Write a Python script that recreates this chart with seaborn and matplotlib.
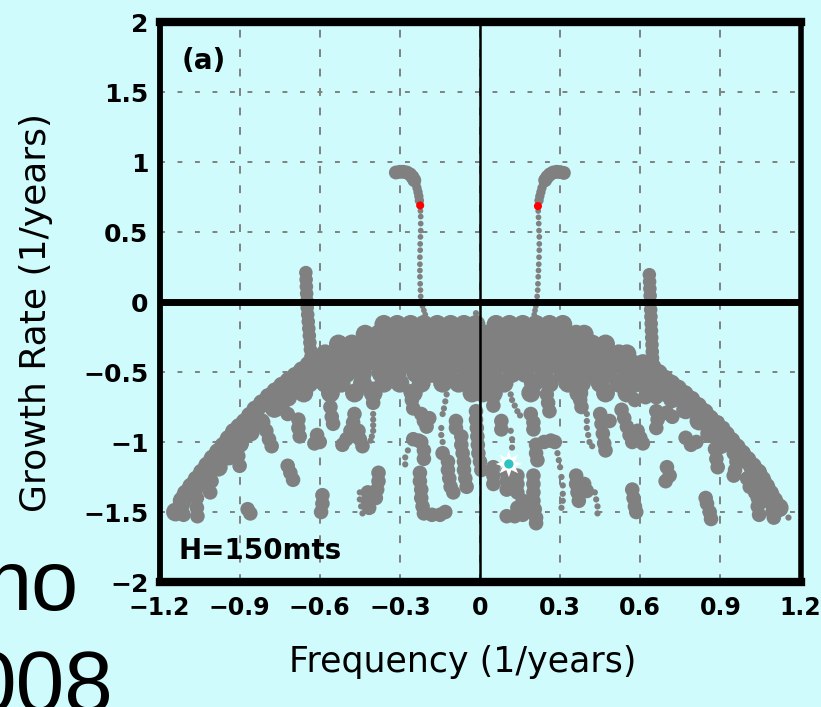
import numpy as np
import pandas as pd
import matplotlib
matplotlib.use("Agg")
import matplotlib.pyplot as plt
import seaborn as sns

# ---- eigenvalue spectrum: frequency (1/years) vs growth rate (1/years) ----

# unstable branches rising above zero (left / right)
head_left_x = [-0.315, -0.300, -0.287, -0.274, -0.262, -0.253, -0.246]
head_left_y = [0.925, 0.930, 0.930, 0.925, 0.912, 0.893, 0.870]
head_right_x = [0.314, 0.300, 0.287, 0.274, 0.262, 0.252, 0.244]
head_right_y = [0.922, 0.928, 0.930, 0.925, 0.912, 0.893, 0.870]

neck_left_x = [-0.240, -0.236, -0.232, -0.229, -0.227]
neck_left_y = [0.845, 0.815, 0.785, 0.755, 0.725]
neck_right_x = [0.238, 0.232, 0.228, 0.224, 0.221]
neck_right_y = [0.845, 0.815, 0.785, 0.755, 0.725]

trail_left_x = [-0.223, -0.222, -0.222, -0.222, -0.223, -0.224, -0.224, -0.225,
                -0.225, -0.225, -0.225, -0.224, -0.223, -0.222, -0.220, -0.215,
                -0.210, -0.205]
trail_left_y = [0.650, 0.610, 0.560, 0.510, 0.465, 0.415, 0.370, 0.320,
                0.270, 0.225, 0.180, 0.130, 0.085, 0.040, 0.000, -0.030,
                -0.060, -0.090]
trail_right_x = [0.218, 0.219, 0.220, 0.221, 0.222, 0.222, 0.222, 0.221,
                 0.220, 0.219, 0.218, 0.217, 0.216, 0.214, 0.212, 0.209,
                 0.206, 0.203]
trail_right_y = [0.650, 0.605, 0.560, 0.510, 0.465, 0.415, 0.370, 0.320,
                 0.270, 0.225, 0.180, 0.130, 0.085, 0.040, 0.000, -0.030,
                 -0.060, -0.090]

# modes where the branches cross the neutral curve
marked_x = [-0.224, 0.217]
marked_y = [0.690, 0.685]

# near-vertical columns at |f| ~ 0.65
column_left_x = [-0.652, -0.651, -0.650, -0.649, -0.648, -0.647, -0.645, -0.643,
                 -0.641, -0.639, -0.637, -0.635, -0.633]
column_left_y = [0.210, 0.160, 0.110, 0.060, 0.010, -0.040, -0.090, -0.140,
                 -0.190, -0.240, -0.290, -0.340, -0.390]
column_right_x = [0.634, 0.635, 0.636, 0.637, 0.638, 0.639, 0.640, 0.641,
                  0.642, 0.643, 0.644, 0.645, 0.646, 0.647]
column_right_y = [0.195, 0.145, 0.095, 0.045, -0.005, -0.055, -0.105, -0.155,
                  -0.205, -0.255, -0.305, -0.355, -0.400, -0.440]

# dense band of damped modes under the zero line, row by row
band_growth = [-0.16, -0.23, -0.30, -0.37, -0.44, -0.51, -0.58, -0.65]
band_freq = [
    [-0.36, -0.31, -0.26, -0.21, -0.16, -0.11, -0.06, -0.015, 0.06, 0.11,
     0.16, 0.21, 0.26, 0.31],
    [-0.43, -0.38, -0.33, -0.28, -0.23, -0.18, -0.13, -0.08, -0.03, 0.02,
     0.07, 0.12, 0.17, 0.22, 0.27, 0.32, 0.36, 0.39],
    [-0.53, -0.48, -0.43, -0.38, -0.33, -0.28, -0.23, -0.18, -0.13, -0.08,
     -0.03, 0.02, 0.07, 0.12, 0.17, 0.22, 0.27, 0.32, 0.37, 0.42, 0.47],
    [-0.58, -0.53, -0.48, -0.43, -0.38, -0.33, -0.28, -0.23, -0.18, -0.13,
     -0.08, -0.03, 0.02, 0.07, 0.12, 0.17, 0.22, 0.27, 0.32, 0.37, 0.42,
     0.47, 0.52, 0.55],
    [-0.63, -0.58, -0.53, -0.48, -0.43, -0.38, -0.33, -0.28, -0.23, -0.18,
     -0.13, -0.08, -0.03, 0.02, 0.07, 0.12, 0.17, 0.22, 0.27, 0.32, 0.37,
     0.42, 0.47, 0.52, 0.57, 0.61],
    [-0.66, -0.61, -0.56, -0.50, -0.44, -0.37, -0.31, -0.24, -0.18, -0.12,
     -0.05, 0.00, 0.05, 0.12, 0.17, 0.24, 0.31, 0.36, 0.42, 0.48, 0.55,
     0.60, 0.66],
    [-0.70, -0.64, -0.58, -0.52, -0.44, -0.36, -0.30, -0.22, -0.14, -0.08,
     -0.02, 0.04, 0.09, 0.20, 0.26, 0.33, 0.38, 0.45, 0.52, 0.58, 0.63, 0.69],
    [-0.74, -0.66, -0.56, -0.47, -0.40, -0.25, -0.03, 0.01, 0.05, 0.19,
     0.37, 0.47, 0.55, 0.63, 0.70],
]

# outer, middle and inner edges of the arch
arc_x = [-0.640, -0.690, -0.740, -0.790, -0.840, -0.880, -0.920, -0.960,
         -1.000, -1.040, -1.080, -1.115, -1.140,
         -0.665, -0.715, -0.765, -0.815, -0.860, -0.900, -0.940, -0.980,
         -1.020, -1.060, -1.100,
         -0.670, -0.720, -0.770, -0.820, -0.860, -0.900, -0.940, -0.980,
         -1.020,
         0.645, 0.690, 0.740, 0.790, 0.840, 0.880, 0.920, 0.960, 1.000,
         1.040, 1.070, 1.100, 1.120,
         0.668, 0.715, 0.765, 0.815, 0.860, 0.900, 0.940, 0.980, 1.020,
         1.055, 1.085,
         0.670, 0.720, 0.770, 0.820, 0.860, 0.900]
arc_y = [-0.450, -0.530, -0.600, -0.680, -0.770, -0.860, -0.930, -1.030,
         -1.120, -1.220, -1.320, -1.420, -1.500,
         -0.490, -0.565, -0.640, -0.725, -0.815, -0.895, -0.980, -1.075,
         -1.170, -1.270, -1.370,
         -0.600, -0.680, -0.760, -0.860, -0.930, -1.010, -1.100, -1.180,
         -1.280,
         -0.470, -0.550, -0.620, -0.700, -0.790, -0.880, -0.950, -1.040,
         -1.130, -1.220, -1.320, -1.420, -1.470,
         -0.510, -0.585, -0.660, -0.745, -0.835, -0.915, -0.995, -1.085,
         -1.175, -1.270, -1.370,
         -0.610, -0.690, -0.770, -0.850, -0.940, -1.020]

# drips hanging from the band
drip_x = [-1.115, -1.115, -1.110, -1.060, -1.060, -1.060, -1.058, -1.085,
          -1.000, -1.005, -1.010, -0.975,
          -0.910, -0.910, -0.905, -0.900, -0.870, -0.860,
          -0.840, -0.820, -0.800, -0.790, -0.780,
          -0.720, -0.710, -0.700, -0.740, -0.720,
          -0.680, -0.680, -0.675, -0.620, -0.610, -0.600,
          -0.590, -0.590, -0.595, -0.560, -0.555, -0.550,
          -0.470, -0.475, -0.485, -0.500, -0.515, -0.455, -0.450, -0.440,
          -0.400, -0.400, -0.400, -0.260, -0.255, -0.250,
          -0.220, -0.210, -0.200, -0.190,
          -0.250, -0.230, -0.220, -0.210, -0.210,
          -0.225, -0.225, -0.220, -0.220, -0.215, -0.210, -0.180, -0.150,
          -0.130,
          -0.420, -0.420, -0.415, -0.380, -0.380, -0.385, -0.390,
          -0.140, -0.090, -0.090,
          -0.070, -0.070, -0.065, -0.060, -0.060, -0.055, -0.050,
          -0.120, -0.120, -0.115, -0.110, -0.100,
          -0.015, -0.015, -0.012, -0.010, -0.008, -0.006, 0.000, 0.005,
          0.040, 0.045, 0.050, 0.050, 0.050, 0.050, 0.050, 0.080, 0.080,
          0.100, 0.100, 0.100, 0.140, 0.140, 0.140,
          0.100, 0.130, 0.160, 0.190, 0.200, 0.200, 0.200, 0.200, 0.205,
          0.210, 0.210, 0.160, 0.140,
          0.190, 0.200, 0.200,
          0.210, 0.210, 0.215, 0.240, 0.265, 0.280,
          0.250, 0.255, 0.260, 0.370, 0.375, 0.380,
          0.450, 0.455, 0.460, 0.465, 0.470, 0.485,
          0.360, 0.360, 0.365, 0.370, 0.390, 0.400,
          0.530, 0.540, 0.550, 0.560, 0.570,
          0.570, 0.575, 0.580, 0.585,
          0.620, 0.580, 0.660, 0.700,
          0.660, 0.680, 0.700, 0.720, 0.665, 0.660,
          0.590, 0.600, 0.610,
          0.770, 0.790, 0.810,
          0.860, 0.890, 0.910, 0.870, 0.900, 0.880, 0.885, 0.890,
          0.700, 0.710, 0.695,
          0.845, 0.850, 0.860, 0.865,
          0.940, 0.950, 0.960, 0.955, 0.950,
          1.000, 1.010, 1.030,
          1.040, 1.040, 1.045,
          1.085, 1.090, 1.095, 1.100]
drip_y = [-1.400, -1.460, -1.520, -1.330, -1.400, -1.470, -1.530, -1.360,
          -1.200, -1.280, -1.360, -1.100,
          -0.950, -1.020, -1.100, -1.170, -1.480, -1.510,
          -0.800, -0.860, -0.920, -0.980, -1.030,
          -1.170, -1.220, -1.270, -0.760, -0.800,
          -0.840, -0.900, -0.960, -1.010, -0.950, -1.000,
          -1.380, -1.440, -1.500, -0.750, -0.820, -0.870,
          -0.800, -0.860, -0.920, -0.980, -1.020, -0.920, -0.980, -1.030,
          -0.620, -0.680, -0.720, -0.640, -0.700, -0.760,
          -0.800, -0.850, -0.890, -0.830,
          -0.980, -0.990, -1.000, -1.060, -1.120,
          -1.220, -1.280, -1.340, -1.400, -1.460, -1.510, -1.520, -1.520,
          -1.500,
          -1.360, -1.420, -1.470, -1.220, -1.280, -1.340, -1.400,
          -1.080, -0.850, -0.900,
          -0.960, -1.020, -1.080, -1.140, -1.200, -1.260, -1.320,
          -1.140, -1.200, -1.260, -1.320, -1.360,
          -0.780, -0.840, -0.900, -0.960, -1.020, -1.080, -1.140, -1.200,
          -0.550, -0.620, -0.680, -0.740, -1.180, -1.240, -1.300, -0.850,
          -0.910,
          -1.220, -1.280, -1.340, -1.240, -1.300, -1.360,
          -1.530, -1.530, -1.520, -1.500, -1.240, -1.300, -1.360, -1.420,
          -1.480, -1.540, -1.580, -1.420, -1.470,
          -0.800, -0.860, -0.910,
          -1.020, -1.080, -1.130, -1.000, -0.990, -1.000,
          -0.660, -0.720, -0.780, -0.640, -0.700, -0.750,
          -0.800, -0.870, -0.940, -1.010, -1.060, -0.850,
          -1.240, -1.300, -1.360, -1.420, -1.300, -1.350,
          -0.770, -0.830, -0.890, -0.950, -1.000,
          -1.340, -1.400, -1.460, -1.500,
          -0.680, -0.700, -0.680, -0.640,
          -0.780, -0.800, -0.790, -0.820, -0.840, -0.900,
          -0.920, -0.970, -1.010,
          -0.970, -1.020, -1.000,
          -0.880, -0.860, -0.900, -0.950, -0.980, -1.050, -1.120, -1.180,
          -1.180, -1.240, -1.280,
          -1.400, -1.440, -1.500, -1.550,
          -1.020, -1.080, -1.140, -1.200, -1.240,
          -1.260, -1.320, -1.360,
          -1.400, -1.460, -1.520,
          -1.380, -1.440, -1.500, -1.540]

# small dotted tracks
dots_x = [-0.400, -0.400, -0.400, -0.400, -0.405, -0.410,
          -0.270, -0.280, -0.280,
          -0.450, -0.450, -0.445, -0.440,
          -0.145, -0.145, -0.140, -0.125, -0.130, -0.135, -0.140,
          0.115, 0.120, 0.120, 0.115, 0.120, 0.130, 0.140, 0.150,
          0.290, 0.295, 0.300, 0.305, 0.310, 0.310, 0.310, 0.305,
          0.400, 0.400, 0.400, 0.405, 0.410, 0.420,
          0.430, 0.435, 0.440, 0.440,
          1.155, -0.015]
dots_y = [-0.800, -0.840, -0.880, -0.920, -0.960, -0.990,
          -1.060, -1.110, -1.160,
          -1.360, -1.410, -1.460, -1.510,
          -0.900, -0.950, -1.000, -0.660, -0.710, -0.760, -0.800,
          -0.920, -0.980, -1.040, -0.660, -0.700, -0.740, -0.780, -0.810,
          -1.080, -1.130, -1.180, -1.250, -1.310, -1.370, -1.420, -1.470,
          -0.800, -0.850, -0.900, -0.950, -1.000, -1.030,
          -1.360, -1.410, -1.460, -1.510,
          -1.540, -0.080]

# highlighted mode
star_x = [0.108]
star_y = [-1.157]

x_ticks = [-1.2, -0.9, -0.6, -0.3, 0.0, 0.3, 0.6, 0.9, 1.2]
x_tick_labels = ["\u22121.2", "\u22120.9", "\u22120.6", "\u22120.3", "0",
                 "0.3", "0.6", "0.9", "1.2"]
y_ticks = [2, 1.5, 1, 0.5, 0, -0.5, -1, -1.5, -2]
y_tick_labels = ["2", "1.5", "1", "0.5", "0", "\u22120.5", "\u22121",
                 "\u22121.5", "\u22122"]

# ---- assemble the point groups ----
band_x = [f for row in band_freq for f in row]
band_y = [g for g, row in zip(band_growth, band_freq) for _ in row]

groups = [
    # (xs, ys, marker area in pt^2)
    (band_x, band_y, 185),
    (arc_x, arc_y, 185),
    (drip_x, drip_y, 110),
    (column_left_x, column_left_y, 95),
    (column_right_x, column_right_y, 95),
    (head_left_x, head_left_y, 100),
    (head_right_x, head_right_y, 100),
    (neck_left_x, neck_left_y, 45),
    (neck_right_x, neck_right_y, 45),
    (trail_left_x, trail_left_y, 17),
    (trail_right_x, trail_right_y, 17),
    (dots_x, dots_y, 20),
]

bg = "#cffbfd"
gray = "#808080"

sns.set_theme(style="white")
plt.rcParams["font.family"] = ["DejaVu Sans"]

fig = plt.figure(figsize=(8.21, 7.07), dpi=100, facecolor=bg)
ax = fig.add_axes([159.5 / 821, 125 / 707, 641 / 821, 560 / 707])
ax.set_facecolor(bg)

for xs, ys, area in groups:
    sns.scatterplot(x=xs, y=ys, s=area, color=gray, linewidth=0,
                    edgecolor="none", legend=False, ax=ax, zorder=3)

sns.scatterplot(x=marked_x, y=marked_y, s=34, color="#ff0000", linewidth=0,
                edgecolor="none", legend=False, ax=ax, zorder=4)
sns.scatterplot(x=star_x, y=star_y, s=360, marker=(8, 1, 0), color="white",
                linewidth=0, edgecolor="none", legend=False, ax=ax, zorder=5)
sns.scatterplot(x=star_x, y=star_y, s=45, color="#2ec4c4", linewidth=0,
                edgecolor="none", legend=False, ax=ax, zorder=6)

ax.set_xlim(-1.2, 1.2)
ax.set_ylim(-2, 2)

# dashed grid under the points, zero axes over them
for xv in x_ticks:
    ax.axvline(xv, color=gray, lw=1.4, ls=(0, (4, 6)), zorder=1)
for yv in y_ticks:
    ax.axhline(yv, color=gray, lw=1.4, ls=(0, (2.5, 6.5)), zorder=1)
ax.axhline(0, color="black", lw=5, zorder=4.5)
ax.axvline(0, color="black", lw=1.8, zorder=4.5)

for side, lw in [("top", 6), ("bottom", 6), ("left", 4.2), ("right", 4)]:
    ax.spines[side].set_visible(True)
    ax.spines[side].set_color("black")
    ax.spines[side].set_linewidth(lw)
    ax.spines[side].set_zorder(7)

ax.set_xticks(x_ticks)
ax.set_xticklabels(x_tick_labels, fontsize=17, fontweight="bold")
ax.set_yticks(y_ticks)
ax.set_yticklabels(y_tick_labels, fontsize=18, fontweight="bold")
ax.tick_params(axis="x", length=0, pad=10, colors="black")
ax.tick_params(axis="y", length=6, width=3, direction="out", pad=2,
               colors="black")

ax.set_xlabel("Frequency (1/years)", fontsize=25, color="black")
ax.set_ylabel("Growth Rate (1/years)", fontsize=26, color="black")
ax.xaxis.set_label_coords(0.473, -0.112)
ax.yaxis.set_label_coords(-0.166, 0.482)

ax.text(0.034, 0.955, "(a)", transform=ax.transAxes, fontsize=20,
        fontweight="bold", va="top", ha="left", color="black")
ax.text(0.03, 0.055, "H=150mts", transform=ax.transAxes, fontsize=20,
        fontweight="bold", va="center", ha="left", color="black")

# fragments of the slide text behind the panel
fig.text(78 / 821, 1 - 610 / 707, "no", fontsize=61, ha="right",
         va="baseline", color="black",
         family=["Liberation Sans", "DejaVu Sans"])
fig.text(113 / 821, 1 - 712 / 707, "008", fontsize=63, ha="right",
         va="baseline", color="black",
         family=["Liberation Sans", "DejaVu Sans"])

fig.savefig("out.png", dpi=100, facecolor=bg)
